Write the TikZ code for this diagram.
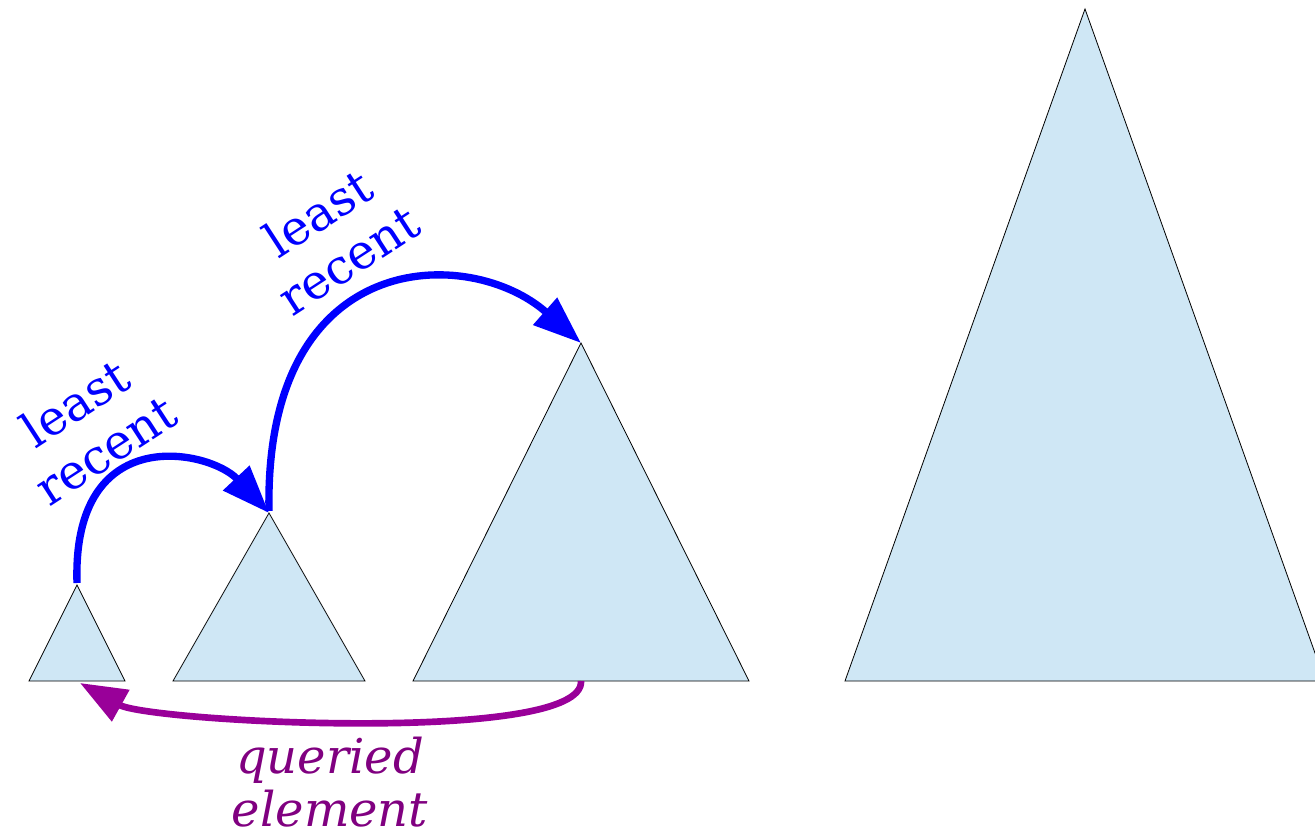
\documentclass[tikz,border=0pt]{standalone}
\usepackage{fontspec}
\setmainfont{DejaVu Serif}
\usetikzlibrary{arrows.meta}
\definecolor{treefill}{RGB}{207,231,245}
\definecolor{qarrow}{RGB}{153,0,153}
\definecolor{qtext}{RGB}{128,0,128}
\tikzset{
  tree/.style={fill=treefill,draw=black,line width=0.6pt,line join=miter},
  lrarrow/.style={draw=blue,line width=5.5pt,-{Triangle[length=36pt,width=26pt]}},
  qarr/.style={draw=qarrow,line width=5pt,-{Triangle[length=35pt,width=26pt]}},
  lrlabel/.style={text=blue,align=center,rotate=33,inner sep=0pt,font=\fontsize{36}{42}\selectfont},
  qlabel/.style={text=qtext,align=center,inner sep=0pt,font=\fontsize{36}{40}\selectfont\itshape}
}
\begin{document}
\begin{tikzpicture}[x=0.75pt,y=-0.75pt]
\useasboundingbox (0,0) rectangle (1315,834);
\clip (0,0) rectangle (1315,834);
% trees
\draw[tree] (29,681) -- (77,585) -- (125,681) -- cycle;
\draw[tree] (173,681) -- (269,513) -- (365,681) -- cycle;
\draw[tree] (413,681) -- (581,343) -- (749,681) -- cycle;
\draw[tree] (845,681) -- (1085,9) -- (1325,681) -- cycle;
% anchor coordinates
\coordinate (a1) at (77,583);
\coordinate (a2) at (269,513);
\coordinate (a2s) at (269,511);
\coordinate (a3) at (581,343);
\coordinate (q0) at (581,681);
\coordinate (q1) at (80,683);
% arrows
\draw[lrarrow] (a1) .. controls (72,420) and (210,450) .. (a2);
\draw[lrarrow] (a2s) .. controls (264,245) and (470,245) .. (a3);
\draw[qarr] (q0) .. controls (585,745) and (150,722) .. (q1);
% labels
\node[lrlabel] (l1) at (90,426) {least\\recent};
\node[lrlabel] (l2) at (333,236) {least\\recent};
\node[qlabel] (ql) at (330,782) {queried\\element};
\end{tikzpicture}
\end{document}
